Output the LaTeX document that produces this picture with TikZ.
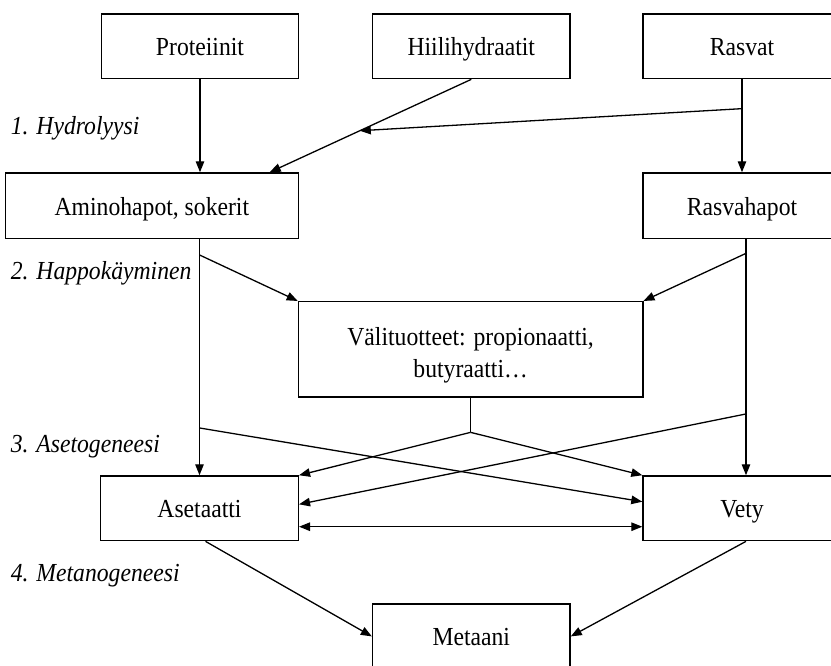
\documentclass[tikz,border=0pt]{standalone}
\usepackage{fontspec}
\setmainfont[FakeStretch=0.91]{Liberation Serif}
\usetikzlibrary{arrows.meta,calc}
\begin{document}
\begin{tikzpicture}[x=1pt,y=-1pt,
  box/.style={draw,line width=1.4pt,rectangle,inner sep=0pt,align=center,
    font=\fontsize{26}{32}\selectfont},
  one/.style={text height=21pt,text depth=2pt},
  lbl/.style={anchor=base west,inner sep=0pt,font=\fontsize{26}{30}\selectfont\itshape},
  arr/.style={line width=1.3pt,-{Triangle[length=11pt,width=8.5pt]}},
  ln/.style={line width=1.3pt},
  darr/.style={line width=1.3pt,{Triangle[length=11pt,width=8.5pt]}-{Triangle[length=11pt,width=8.5pt]}}]
\useasboundingbox (0,0) rectangle (831,665);
\clip (0,0) rectangle (831,665);
\fill[white] (0,0) rectangle (831,665);

% boxes
\node[box,one,minimum width=196.7pt,minimum height=64.7pt] (P) at (200,46.3) {Proteiinit};
\node[box,one,minimum width=197.5pt,minimum height=64.7pt] (H) at (471.3,46.3) {Hiilihydraatit};
\node[box,one,minimum width=198pt,minimum height=64.7pt] (R) at (742,46.3) {Rasvat};
\node[box,one,minimum width=293pt,minimum height=65.5pt] (A) at (151.9,205.7) {Aminohapot, sokerit};
\node[box,one,minimum width=198pt,minimum height=65.5pt] (RH) at (742,205.7) {Rasvahapot};
\node[box,minimum width=344.4pt,minimum height=95.3pt] (V) at (470.6,349.3) {};
\node[align=center,inner sep=0pt,font=\fontsize{26}{32}\selectfont] (Vt) at (470.6,355) {Välituotteet: propionaatti,\\butyraatti…};
\node[box,one,minimum width=197.7pt,minimum height=64.7pt] (As) at (199.5,508.3) {Asetaatti};
\node[box,one,minimum width=198pt,minimum height=64.7pt] (Ve) at (742,508.3) {Vety};
\node[box,one,minimum width=197.5pt,minimum height=64.7pt] (M) at (471.3,636.4) {Metaani};

% labels
\node[lbl] (l1) at (10.6,134) {1. Hydrolyysi};
\node[lbl] (l2) at (10.6,279) {2. Happokäyminen};
\node[lbl] (l3) at (10.6,452.7) {3. Asetogeneesi};
\node[lbl] (l4) at (10.6,581) {4. Metanogeneesi};

% 1. hydrolysis
\draw[arr] (P.south) -- (P.south |- A.north);
\coordinate (ha) at ([xshift=265pt]A.north west);
\draw[arr] (H.south) -- (ha);
\draw[arr] (R.south) -- (RH.north);
\coordinate (rb) at ([yshift=-29.3pt]R.south);
\coordinate (hj) at ($(H.south)!0.553!(ha)$);
\draw[arr] (rb) -- (hj);

% 2. acid fermentation
\coordinate (lt) at (As.north |- A.south);
\coordinate (rt) at ([xshift=4pt]RH.south);
\coordinate (rbot) at ([xshift=4pt]Ve.north);
\draw[arr] (lt) -- (As.north);
\draw[arr] (rt) -- (rbot);
\coordinate (l2s) at ([yshift=-15.8pt]lt);
\coordinate (r2s) at ([yshift=-14.2pt]rt);
\draw[arr] (l2s) -- (V.north west);
\draw[arr] (r2s) -- (V.north east);

% 3. acetogenesis
\coordinate (vj) at ([yshift=-34.7pt]V.south);
\draw[ln] (V.south) -- (vj);
\draw[arr] (vj) -- (As.north east);
\draw[arr] (vj) -- (Ve.north west);
\coordinate (l3s) at ([yshift=-188.8pt]lt);
\coordinate (r3s) at ([yshift=-174.8pt]rt);
\draw[arr] (l3s) -- ([yshift=6.6pt]Ve.west);
\draw[arr] (r3s) -- ([yshift=4pt]As.east);
\draw[darr] ([yshift=-18.4pt]As.east) -- ([yshift=-18.4pt]Ve.west);

% 4. methanogenesis
\draw[arr] ([xshift=6pt]As.south) -- (M.west);
\draw[arr] ([xshift=4pt]Ve.south) -- (M.east);
\end{tikzpicture}
\end{document}
